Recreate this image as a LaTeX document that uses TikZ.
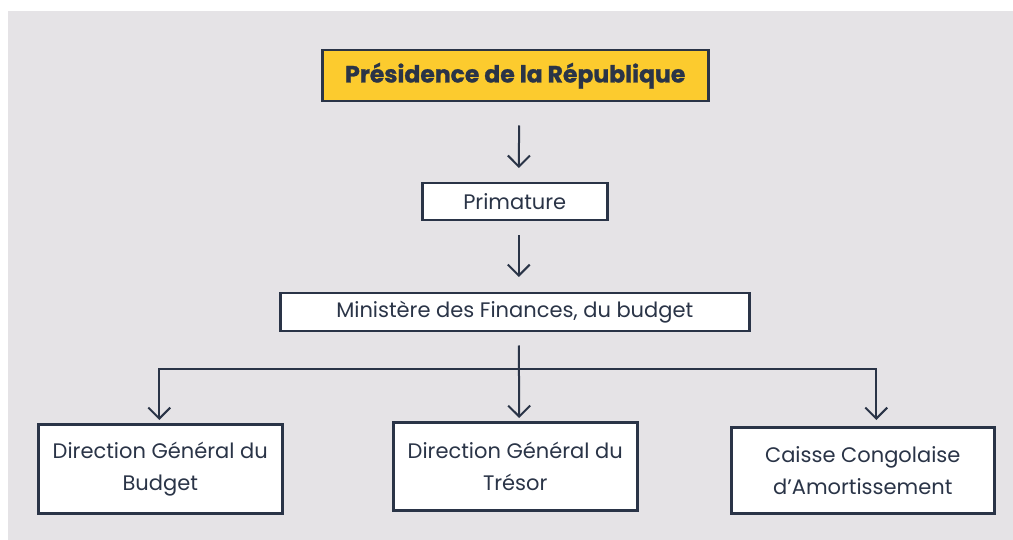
\documentclass[tikz,border=0pt]{standalone}
\usepackage{fontspec}
\setmainfont{Poppins}
\usetikzlibrary{arrows.meta,calc}
\definecolor{ink}{HTML}{2A3447}
\definecolor{bgc}{HTML}{E5E3E6}
\definecolor{gold}{HTML}{FCCB2E}
\tikzset{
  box/.style={draw=ink, line width=2.5pt, fill=white, text=ink, anchor=north west, inner sep=0pt, align=center,
     font=\fontsize{21}{32}\selectfont},
  titlebox/.style={box, fill=gold, font=\fontsize{23.5}{27}\bfseries\addfontfeature{FakeBold=1.2}\selectfont},
  conn/.style={draw=ink, line width=2pt},
  arr/.style={conn, -{Straight Barb[length=11pt,width=22pt,line width=2pt]}}
}
\begin{document}
\begin{tikzpicture}[x=1pt,y=-1pt]
\useasboundingbox (0,0) rectangle (1013,540);
\fill[white] (0,0) rectangle (1013,540);
\fill[bgc] (8,11) rectangle (1013,540);
\node[titlebox, minimum width=386pt, minimum height=51pt] (pres) at (321,49) {Présidence de la République};
\node[box, minimum width=185pt, minimum height=37pt] (prim) at (421,182) {Primature};
\node[box, minimum width=469pt, minimum height=38pt] (mini) at (279,292) {Ministère des Finances, du budget};
\node[box, minimum width=244pt, minimum height=89pt] (dgb) at (37,423) {Direction Général du\\Budget};
\node[box, minimum width=244pt, minimum height=88pt] (dgt) at (392,421) {Direction Général du\\Trésor};
\node[box, minimum width=263pt, minimum height=86pt] (cca) at (730,426) {Caisse Congolaise\\d’Amortissement};
\draw[arr, shorten <=23pt, shorten >=14pt] ([xshift=4pt]pres.south) -- ([xshift=4pt]prim.north);
\draw[arr, shorten <=14pt, shorten >=15pt] ([xshift=4pt]prim.south) -- ([xshift=4pt]mini.north);
\draw[arr, shorten <=13pt, shorten >=3pt] ([xshift=4pt]mini.south) -- ([xshift=4pt]dgt.north);
\coordinate (hub) at ([xshift=4pt]mini.south |- 0,369);
\draw[arr, shorten >=3pt] (hub) -| ([xshift=-1pt]dgb.north);
\draw[arr, shorten >=6pt] (hub) -| ([xshift=13.5pt]cca.north);
\end{tikzpicture}
\end{document}
